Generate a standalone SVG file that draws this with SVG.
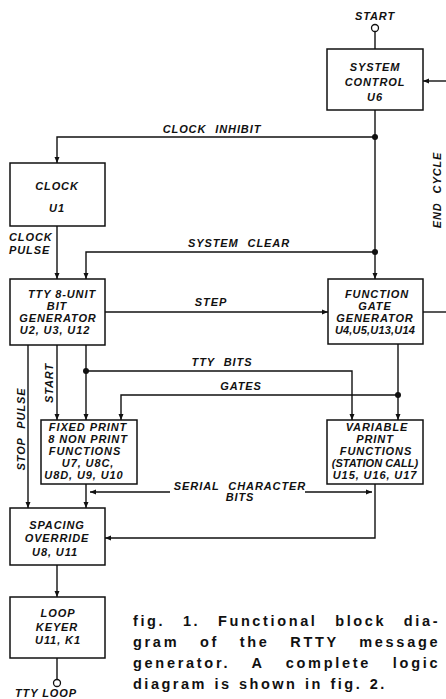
<svg xmlns="http://www.w3.org/2000/svg" width="446" height="699" viewBox="0 0 446 699">
<defs>
<marker id="ah" viewBox="0 0 6 6" markerWidth="6" markerHeight="6" refX="6" refY="3" orient="auto" markerUnits="userSpaceOnUse">
<path d="M0,0.5 L6,3 L0,5.5 z" fill="#111"/>
</marker>
<style>
.box{fill:#fff;stroke:#111;stroke-width:1.5}
.ln{fill:none;stroke:#111;stroke-width:1.4}
.arr{marker-end:url(#ah)}
.dot{fill:#111}
.oc{fill:#fff;stroke:#111;stroke-width:1.3}
text{font-family:"Liberation Sans",Arial,sans-serif;fill:#111}
.t{font-size:11px;font-weight:bold;font-style:italic;letter-spacing:0.9px;text-anchor:middle}
.w{word-spacing:5px}
.l{font-size:11px;font-weight:bold;font-style:italic;letter-spacing:0.9px}
.cap{font-size:14.5px;font-weight:bold;letter-spacing:2.5px}
</style>
</defs>
<rect width="446" height="699" fill="#fff"/>

<g id="connectors">
<line class="ln" x1="375" y1="31.5" x2="375" y2="49"/>
<line class="ln arr" x1="446" y1="81" x2="423" y2="81"/>
<line class="ln arr" x1="375" y1="110" x2="375" y2="279"/>
<path class="ln arr" d="M375,137 H57 V163"/>
<line class="ln arr" x1="57" y1="226" x2="57" y2="279"/>
<path class="ln arr" d="M375,252 H86 V279"/>
<line class="ln arr" x1="105" y1="312" x2="328" y2="312"/>
<line class="ln" x1="423" y1="312" x2="446" y2="312"/>
<line class="ln arr" x1="28" y1="345" x2="28" y2="508"/>
<line class="ln arr" x1="57" y1="345" x2="57" y2="420"/>
<line class="ln arr" x1="86" y1="345" x2="86" y2="420"/>
<path class="ln arr" d="M86,371 H352 V420"/>
<line class="ln arr" x1="398" y1="344" x2="398" y2="420"/>
<path class="ln arr" d="M398,395 H121 V420"/>
<line class="ln arr" x1="170" y1="492" x2="90" y2="492"/>
<line class="ln arr" x1="305" y1="492" x2="372" y2="492"/>
<line class="ln arr" x1="86" y1="484" x2="86" y2="508"/>
<path class="ln arr" d="M375,484 V538 H105"/>
<line class="ln arr" x1="57" y1="565" x2="57" y2="597"/>
<line class="ln" x1="57" y1="658" x2="57" y2="679.5"/>
<circle class="dot" cx="375" cy="137" r="3"/>
<circle class="dot" cx="375" cy="252" r="3"/>
<circle class="dot" cx="86" cy="371" r="3"/>
<circle class="dot" cx="398" cy="395" r="3"/>
<circle class="oc" cx="375" cy="28" r="3.5"/>
<circle class="oc" cx="57" cy="683" r="3.5"/>
<text class="t" x="375" y="20">START</text>
<text class="t w" x="212" y="133">CLOCK INHIBIT</text>
<text class="l" x="9" y="241">CLOCK</text>
<text class="l" x="9" y="254">PULSE</text>
<text class="t w" x="239" y="247">SYSTEM CLEAR</text>
<text class="t" x="211" y="306">STEP</text>
<text class="t w" x="222" y="366">TTY BITS</text>
<text class="t" x="241" y="390">GATES</text>
<text class="t w" x="240" y="490">SERIAL CHARACTER</text>
<text class="t" x="240" y="501">BITS</text>
<text class="t w" transform="translate(441,190) rotate(-90)">END CYCLE</text>
<text class="t w" transform="translate(25,429) rotate(-90)">STOP PULSE</text>
<text class="t" transform="translate(53,383) rotate(-90)">START</text>
<text class="t" x="46" y="697">TTY LOOP</text>
</g>

<g id="system-control">
<rect class="box" x="327" y="49" width="96" height="61"/>
<text class="t" x="375" y="71">SYSTEM</text>
<text class="t" x="375" y="86">CONTROL</text>
<text class="t" x="375" y="101">U6</text>
</g>

<g id="clock">
<rect class="box" x="10" y="163" width="95" height="63"/>
<text class="t" x="57" y="190">CLOCK</text>
<text class="t" x="57" y="212">U1</text>
</g>

<g id="bit-generator">
<rect class="box" x="10" y="279" width="95" height="66"/>
<text class="t" x="62" y="298">TTY 8-UNIT</text>
<text class="t" x="57" y="310">BIT</text>
<text class="t" x="58" y="322">GENERATOR</text>
<text class="t" x="55" y="334">U2, U3, U12</text>
</g>

<g id="function-gate-generator">
<rect class="box" x="328" y="279" width="95" height="65"/>
<text class="t" x="377" y="298">FUNCTION</text>
<text class="t" x="375" y="310">GATE</text>
<text class="t" x="375" y="322">GENERATOR</text>
<text class="t" x="375" y="334" style="letter-spacing:0.2px">U4,U5,U13,U14</text>
</g>

<g id="fixed-print">
<rect class="box" x="41" y="420" width="96" height="64"/>
<text class="t" x="88" y="431">FIXED PRINT</text>
<text class="t" x="88" y="443">8 NON PRINT</text>
<text class="t" x="85" y="455">FUNCTIONS</text>
<text class="t" x="88" y="467">U7, U8C,</text>
<text class="t" x="84" y="479">U8D, U9, U10</text>
</g>

<g id="variable-print">
<rect class="box" x="327" y="420" width="96" height="64"/>
<text class="t" x="377" y="431">VARIABLE</text>
<text class="t" x="375" y="443">PRINT</text>
<text class="t" x="376" y="455">FUNCTIONS</text>
<text class="t" x="375" y="467" style="letter-spacing:0px">(STATION CALL)</text>
<text class="t" x="375" y="479">U15, U16, U17</text>
</g>

<g id="spacing-override">
<rect class="box" x="10" y="508" width="95" height="57"/>
<text class="t" x="57" y="529">SPACING</text>
<text class="t" x="57" y="542">OVERRIDE</text>
<text class="t" x="55" y="556">U8, U11</text>
</g>

<g id="loop-keyer">
<rect class="box" x="10" y="597" width="95" height="61"/>
<text class="t" x="58" y="617">LOOP</text>
<text class="t" x="57" y="631">KEYER</text>
<text class="t" x="58" y="644">U11, K1</text>
</g>

<g id="caption">
<text class="cap" x="133" y="626" style="word-spacing:11px" textLength="307" lengthAdjust="spacing">fig. 1. Functional block dia-</text>
<text class="cap" x="133" y="647" style="word-spacing:14px" textLength="307" lengthAdjust="spacing">gram of the RTTY message</text>
<text class="cap" x="133" y="668" style="word-spacing:15px" textLength="307" lengthAdjust="spacing">generator. A complete logic</text>
<text class="cap" x="133" y="689" style="word-spacing:1px">diagram is shown in fig. 2.</text>
</g>
</svg>
